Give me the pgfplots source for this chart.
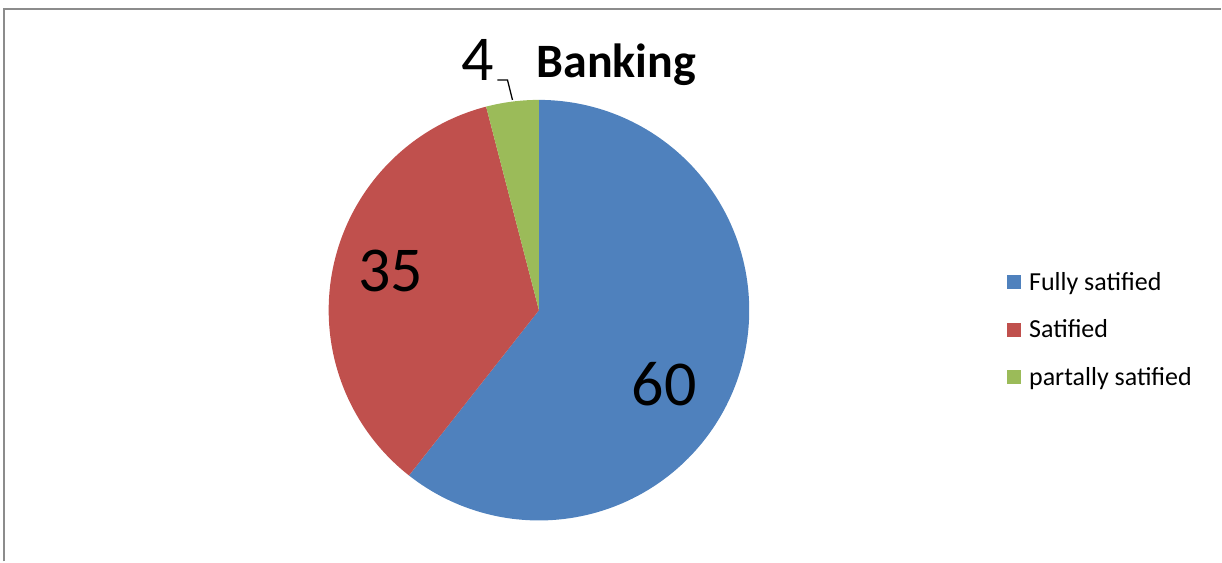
\documentclass[border=0pt]{standalone}
\usepackage{pgfplots}
\pgfplotsset{compat=1.18}
\usepackage{pgfplotstable}
\usepackage{fontspec}
\setmainfont{Carlito}
\definecolor{cblue}{HTML}{4F81BD}
\definecolor{cred}{HTML}{C0504D}
\definecolor{cgreen}{HTML}{9BBB59}
\pgfplotstableread{
label value
Fully 60
Sat 35
Part 4
}\piedata
\begin{document}
\begin{tikzpicture}
\pgfplotstablegetelem{0}{value}\of\piedata \let\va\pgfplotsretval
\pgfplotstablegetelem{1}{value}\of\piedata \let\vb\pgfplotsretval
\pgfplotstablegetelem{2}{value}\of\piedata \let\vc\pgfplotsretval
\pgfmathsetmacro\tot{\va+\vb+\vc}
\pgfmathsetmacro\aA{90}
\pgfmathsetmacro\aB{90-360*(\va/\tot)}
\pgfmathsetmacro\aC{\aB-360*(\vb/\tot)}
\pgfmathsetmacro\aD{\aC-360*(\vc/\tot)}
\begin{axis}[
  x=1pt, y=1pt, xmin=0, xmax=1222, ymin=0, ymax=562,
  hide axis, clip=false, scale only axis,
  legend cell align=left,
  legend image code/.code={\fill[#1] (0pt,-7pt) rectangle (14pt,7pt);},
  legend style={at={(axis cs:1008,232)}, anchor=west, draw=none, fill=none,
    font=\fontsize{26}{31}\selectfont, row sep=22pt, column sep=5pt, inner sep=0pt,
    nodes={inner sep=3pt}},
]
\path (axis cs:0,0) rectangle (axis cs:1222,562);
\addplot[fill=cblue, draw=none, domain=\aB:\aA, samples=150]
  ({539.5+210.5*cos(x)},{251.5+210.5*sin(x)}) -- (axis cs:539.5,251.5) -- cycle;
\addlegendentry{Fully satified}
\addplot[fill=cred, draw=none, domain=\aC:\aB, samples=120]
  ({539.5+210.5*cos(x)},{251.5+210.5*sin(x)}) -- (axis cs:539.5,251.5) -- cycle;
\addlegendentry{Satified}
\addplot[fill=cgreen, draw=none, domain=\aD:\aC, samples=30]
  ({539.5+210.5*cos(x)},{251.5+210.5*sin(x)}) -- (axis cs:539.5,251.5) -- cycle;
\addlegendentry{partally satified}
\addplot[black, line width=1.3pt, forget plot] coordinates {(498,482) (508,482) (513,462)};
\addplot[gray!90, line width=2.5pt, forget plot] coordinates {(4,0) (4,553) (1222,553)};
\node[anchor=base] at (axis cs:665,156) {\fontsize{64}{76}\selectfont 60};
\node[anchor=base] at (axis cs:391,270) {\fontsize{64}{76}\selectfont 35};
\node[anchor=base] at (axis cs:478,481) {\fontsize{64}{76}\selectfont 4};
\node[anchor=base] at (axis cs:617,484) {\fontsize{48}{58}\selectfont\bfseries Banking};
\end{axis}
\end{tikzpicture}
\end{document}
